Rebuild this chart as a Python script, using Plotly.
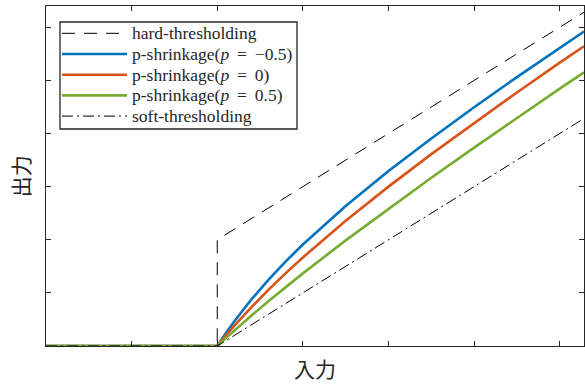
import plotly.graph_objects as go

# Input values (x) and outputs
x_curve = [0, 2.0, 2.1, 2.2, 2.4, 2.6, 2.8, 3.0, 3.5, 4.0, 4.5, 5.0, 5.5, 6.0, 6.283]
y_p_neg05 = [0, 0.0, 0.241, 0.466, 0.879, 1.251, 1.593, 1.911, 2.636, 3.293, 3.907, 4.494, 5.062, 5.615, 5.921]
y_p_0 = [0, 0.0, 0.195, 0.382, 0.733, 1.062, 1.371, 1.667, 2.357, 3.0, 3.611, 4.2, 4.773, 5.333, 5.643]
y_p_05 = [0, 0.0, 0.148, 0.293, 0.574, 0.846, 1.110, 1.367, 1.988, 2.586, 3.167, 3.735, 4.294, 4.845, 5.151]

x_hard = [0, 2.0, 2.0, 6.283]
y_hard = [0, 0.0, 2.0, 6.283]

x_soft = [0, 2.0, 6.283]
y_soft = [0, 0.0, 4.283]

x_ticks = [0, 1, 2, 3, 4, 5, 6]
y_ticks = [0, 1, 2, 3, 4, 5, 6]

SP = "\u00a0\u2009"
names = ["hard-thresholding",
         f"p-shrinkage(<i>p</i>{SP}={SP}−0.5)",
         f"p-shrinkage(<i>p</i>{SP}={SP}0)",
         f"p-shrinkage(<i>p</i>{SP}={SP}0.5)",
         "soft-thresholding"]

W, H = 585, 385
ML, MR, MT, MB = 46, 1, 6, 39
PW, PH = W - ML - MR, H - MT - MB


def px_to_paper(px, py):
    return (px - ML) / PW, (H - MB - py) / PH


styles = [
    dict(color="black", width=1, dash="13px,9px"),
    dict(color="#0072BD", width=2.6),
    dict(color="#D95319", width=2.6),
    dict(color="#77AC30", width=2.6),
    dict(color="black", width=1, dash="11px,4px,2px,4px"),
]

fig = go.Figure()
fig.add_trace(go.Scatter(x=x_hard, y=y_hard, mode="lines", name=names[0], line=styles[0]))
fig.add_trace(go.Scatter(x=x_curve, y=y_p_neg05, mode="lines", name=names[1], line=styles[1]))
fig.add_trace(go.Scatter(x=x_curve, y=y_p_0, mode="lines", name=names[2], line=styles[2]))
fig.add_trace(go.Scatter(x=x_curve, y=y_p_05, mode="lines", name=names[3], line=styles[3]))
fig.add_trace(go.Scatter(x=x_soft, y=y_soft, mode="lines", name=names[4], line=styles[4]))

# Custom legend (box, line samples, labels) placed to match the reference
shapes = []
annotations = []
bx0, by0 = px_to_paper(60, 22)
bx1, by1 = px_to_paper(297, 129)
shapes.append(dict(type="rect", xref="paper", yref="paper", x0=bx0, y0=by1, x1=bx1, y1=by0,
                   fillcolor="white", line=dict(color="#262626", width=1.3), layer="above"))
row0, row_step = 33.3, 20.7
for i, (nm, st) in enumerate(zip(names, styles)):
    ry = row0 + i * row_step
    lx0, ly = px_to_paper(62, ry)
    lx1, _ = px_to_paper(127, ry)
    shapes.append(dict(type="line", xref="paper", yref="paper", x0=lx0, y0=ly, x1=lx1, y1=ly,
                       line=st, layer="above"))
    tx, ty = px_to_paper(130, ry)
    annotations.append(dict(text=nm, xref="paper", yref="paper", x=tx, y=ty,
                            xanchor="left", yanchor="middle", showarrow=False,
                            font=dict(family="Liberation Serif", size=17.5, color="#262626")))

annotations += [
    dict(text="入力", xref="paper", yref="paper", x=0.50, y=-0.066,
         xanchor="center", yanchor="middle", showarrow=False,
         font=dict(family="Noto Sans CJK JP", size=21, color="#262626")),
    dict(text="出力", xref="paper", yref="paper", x=-0.048, y=0.50,
         xanchor="center", yanchor="middle", showarrow=False, textangle=-90,
         font=dict(family="Noto Sans CJK JP", size=21, color="#262626")),
]

axis_common = dict(showline=True, mirror="ticks", linecolor="#262626", linewidth=1.2,
                   ticks="inside", ticklen=5, tickcolor="#262626", tickwidth=1.2,
                   showticklabels=False, showgrid=False, zeroline=False)

fig.update_layout(
    width=W, height=H,
    margin=dict(l=ML, r=MR, t=MT, b=MB),
    paper_bgcolor="white", plot_bgcolor="white",
    xaxis=dict(range=[0, 6.283], tickvals=x_ticks, **axis_common),
    yaxis=dict(range=[0, 6.4], tickvals=y_ticks, **axis_common),
    showlegend=False,
    shapes=shapes,
    annotations=annotations,
)

fig.write_html("out.html", config={"displayModeBar": False},
               post_script="document.body.style.margin='0';document.body.style.padding='0';")
